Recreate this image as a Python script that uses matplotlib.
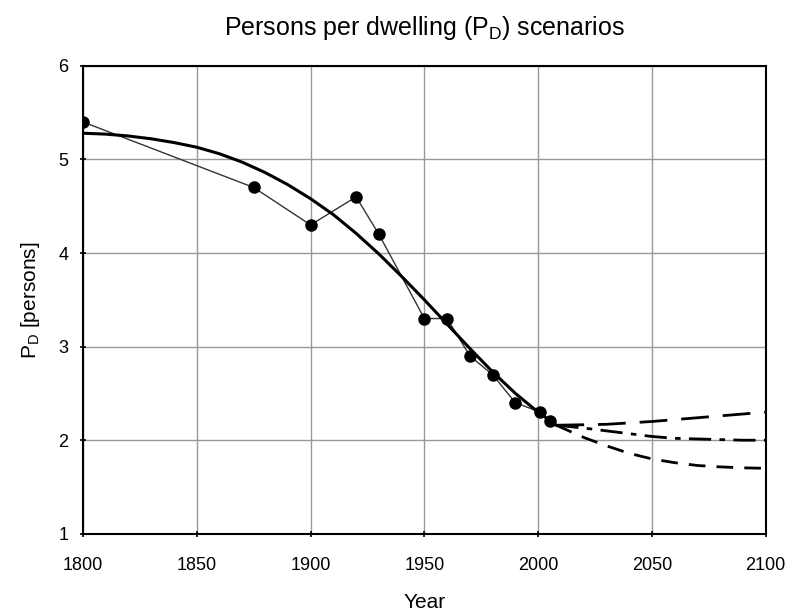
import numpy as np
import matplotlib
matplotlib.use("Agg")
import matplotlib.pyplot as plt

plt.rcParams['font.family'] = ['Liberation Sans', 'DejaVu Sans']

# observed persons per dwelling
obs_year = [1800, 1875, 1900, 1920, 1930, 1950, 1960, 1970, 1980, 1990, 2001, 2005]
obs_pd = [5.4, 4.7, 4.3, 4.6, 4.2, 3.3, 3.3, 2.9, 2.7, 2.4, 2.3, 2.2]

# fitted trend
fit_year = [1800, 1810, 1820, 1830, 1840, 1850, 1860, 1870, 1880, 1890,
            1900, 1910, 1920, 1930, 1940, 1950, 1960, 1970, 1980, 1990,
            2000, 2008]
fit_pd = [5.28, 5.27, 5.25, 5.22, 5.18, 5.13, 5.06, 4.97, 4.86, 4.73,
          4.58, 4.41, 4.21, 3.99, 3.75, 3.50, 3.24, 2.98, 2.73, 2.50,
          2.30, 2.16]

# scenarios
hi_year = [2008, 2030, 2050, 2075, 2100]
hi_pd = [2.16, 2.17, 2.20, 2.25, 2.30]
mid_year = [2008, 2020, 2030, 2040, 2050, 2060, 2075, 2090, 2100]
mid_pd = [2.16, 2.13, 2.10, 2.07, 2.04, 2.02, 2.01, 2.00, 2.00]
lo_year = [2008, 2020, 2030, 2040, 2050, 2060, 2070, 2080, 2090, 2100]
lo_pd = [2.16, 2.03, 1.94, 1.86, 1.80, 1.76, 1.73, 1.715, 1.705, 1.70]

fig = plt.figure(figsize=(7.91, 6.15), dpi=100)
ax = fig.add_axes([0.105, 0.132, 0.863, 0.761])

ax.plot(obs_year, obs_pd, color='#333333', lw=1.0, marker='o', ms=8,
        mfc='black', mec='black', zorder=3)
ax.plot(fit_year, fit_pd, color='black', lw=2.2, zorder=4)
ax.plot(hi_year, hi_pd, color='black', lw=2.0, dashes=(10, 5))
ax.plot(mid_year, mid_pd, color='black', lw=2.0, dashes=(8, 3, 2, 3))
ax.plot(lo_year, lo_pd, color='black', lw=2.0, dashes=(6, 4))

ax.set_xlim(1800, 2100)
ax.set_ylim(1, 6)
ax.set_xticks(range(1800, 2101, 50))
ax.set_yticks(range(1, 7))
ax.grid(True, color='#999999', lw=1.0)
ax.set_axisbelow(True)
for s in ax.spines.values():
    s.set_linewidth(1.5)
ax.tick_params(labelsize=13, length=5, width=1.2, direction='inout')
ax.tick_params(axis='x', pad=14)
ax.tick_params(axis='y', pad=8)

ax.set_xlabel('Year', fontsize=15, labelpad=14)
ax.set_ylabel('P$_\\mathregular{D}$ [persons]', fontsize=15, labelpad=12)
ax.set_title('Persons per dwelling (P$_\\mathregular{D}$) scenarios', fontsize=18, pad=22)

fig.savefig('out.png', dpi=100)
